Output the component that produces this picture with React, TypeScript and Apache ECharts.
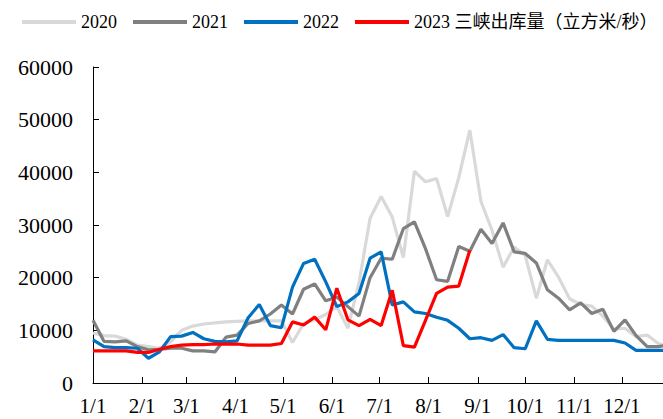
import React, { useEffect, useRef } from "react";
import * as echarts from "echarts";

// Weekly readings of the Three Gorges outflow (m³/s), one value per week from 1 Jan
const DAYS_PER_STEP = 7;
const X_MAX_DAY = 360;

const MONTH_START_DAYS = [0, 31, 59, 90, 120, 151, 181, 212, 243, 273, 304, 334];
const MONTH_LABELS = ["1/1", "2/1", "3/1", "4/1", "5/1", "6/1", "7/1", "8/1", "9/1", "10/1", "11/1", "12/1"];

const SERIES_NAMES = ["2020", "2021", "2022", "2023 三峡出库量（立方米/秒）"];
const SERIES_COLORS = ["#D9D9D9", "#808080", "#0070C0", "#FF0000"];

const flow2020 = [
  9500, 9000, 8900, 8300, 7200, 6900, 6600, 7800, 10000, 10800,
  11200, 11400, 11600, 11700, 11800, 11800, 11800, 11800, 7700, 11300,
  12000, 13000, 14500, 10400, 19000, 31300, 35400, 31500, 23800, 40200,
  38200, 38800, 31600, 39000, 48000, 34500, 29000, 22000, 25800, 24200,
  16100, 23400, 20100, 16000, 14900, 14600, 12700, 10200, 10400, 8800,
  9100, 7500, 6900,
];
const flow2021 = [
  11900, 7900, 7800, 8000, 6900, 6300, 6400, 6600, 6600, 6100,
  6100, 5900, 8700, 9100, 11300, 11800, 13100, 14800, 13100, 17800,
  18800, 15600, 16300, 14500, 12700, 20000, 23700, 23500, 29300, 30600,
  25500, 19600, 19300, 25900, 25000, 29200, 26500, 30400, 24900, 24600,
  22800, 17700, 16100, 13900, 15200, 13200, 14000, 9800, 12000, 9000,
  6900, 6900, 7200,
];
const flow2022 = [
  8200, 6900, 6700, 6700, 6600, 4700, 5900, 8800, 8900, 9600,
  8400, 7900, 7800, 8000, 12400, 14900, 10900, 10500, 18200, 22700,
  23500, 19200, 14500, 15400, 17000, 23700, 24900, 14800, 15400, 13500,
  13200, 12500, 11900, 10400, 8400, 8600, 8100, 9200, 6700, 6500,
  11800, 8300, 8100, 8100, 8100, 8100, 8100, 8100, 7600, 6200,
  6200, 6200, 6200,
];
const flow2023 = [
  6100, 6100, 6100, 6100, 5800, 5800, 6400, 6900, 7200, 7300,
  7300, 7400, 7400, 7400, 7200, 7200, 7200, 7500, 11600, 11000,
  12500, 10100, 18000, 12000, 10900, 12100, 10900, 17600, 7100, 6800,
  11900, 17000, 18200, 18400, 25200,
];

const Y_MIN = 0;
const Y_MAX = 60000;
const Y_STEP = 10000;

const FONT = "'Liberation Serif', 'Times New Roman', 'Noto Sans CJK SC', serif";

const toPoints = (values: number[]) => values.map((v, i) => [i * DAYS_PER_STEP, v]);

export default function App() {
  const ref = useRef<HTMLDivElement>(null);

  useEffect(() => {
    if (!ref.current) return;
    const chart = echarts.init(ref.current, null, { renderer: "svg" });
    const allSeries = [flow2020, flow2021, flow2022, flow2023];

    chart.setOption({
      animation: false,
      backgroundColor: "#ffffff",
      grid: { left: 93, right: 0, top: 67, bottom: 36, containLabel: false, outerBoundsMode: "none" },
      legend: {
        left: 22,
        top: 13,
        width: 660,
        padding: 0,
        icon: "rect",
        itemWidth: 54,
        itemHeight: 4,
        itemGap: 16,
        data: SERIES_NAMES,
        textStyle: { fontSize: 18, fontFamily: FONT, color: "#000" },
      },
      xAxis: {
        type: "value",
        min: 0,
        max: X_MAX_DAY,
        axisLine: { show: true, lineStyle: { color: "#000", width: 1 } },
        axisTick: {
          show: true,
          inside: true,
          length: 6,
          customValues: MONTH_START_DAYS,
          lineStyle: { color: "#000" },
        },
        axisLabel: {
          customValues: MONTH_START_DAYS,
          formatter: (v: number) => {
            const k = MONTH_START_DAYS.indexOf(v);
            return k >= 0 ? MONTH_LABELS[k] : "";
          },
          fontSize: 21,
          fontFamily: FONT,
          color: "#000",
          margin: 12,
        },
        splitLine: { show: false },
      },
      yAxis: {
        type: "value",
        min: Y_MIN,
        max: Y_MAX,
        interval: Y_STEP,
        axisLine: { show: true, lineStyle: { color: "#000", width: 1 } },
        axisTick: { show: true, inside: true, length: 6, lineStyle: { color: "#000" } },
        axisLabel: {
          formatter: (v: number) => String(v),
          fontSize: 22,
          fontFamily: FONT,
          color: "#000",
          margin: 20,
        },
        splitLine: { show: false },
      },
      series: allSeries.map((vals, k) => ({
        name: SERIES_NAMES[k],
        type: "line",
        data: toPoints(vals),
        symbol: "none",
        color: SERIES_COLORS[k],
        lineStyle: { color: SERIES_COLORS[k], width: 3.2 },
        clip: true,
      })),
    });

    return () => chart.dispose();
  }, []);

  return (
    <div
      ref={ref}
      style={{ position: "fixed", left: 0, top: 0, width: 663, height: 419 }}
    />
  );
}
